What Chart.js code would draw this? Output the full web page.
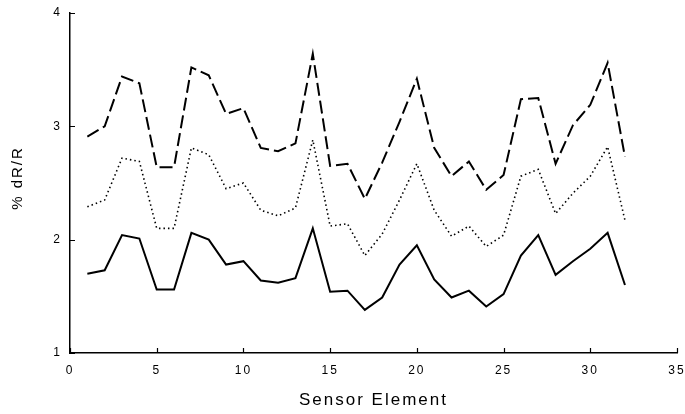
<!DOCTYPE html>
<html>
<head>
<meta charset="utf-8">
<script src="https://cdn.jsdelivr.net/npm/chart.js@4.4.1/dist/chart.umd.min.js"></script>
<style>
  html, body { margin: 0; padding: 0; background: #fff; }
  canvas { display: block; }
</style>
</head>
<body>
<canvas id="sensorChart" width="685" height="414"></canvas>
<script>
// sensor element index 1..32
const sensorElements = [1, 2, 3, 4, 5, 6, 7, 8, 9, 10, 11, 12, 13, 14, 15, 16,
  17, 18, 19, 20, 21, 22, 23, 24, 25, 26, 27, 28, 29, 30, 31, 32];

// % dR/R, upper (dashed) series
const dashedValues = [2.91, 3.0, 3.44, 3.38, 2.64, 2.64, 3.52, 3.45, 3.11, 3.16, 2.81, 2.78, 2.85, 3.64, 2.65, 2.67,
  2.36, 2.68, 3.04, 3.42, 2.81, 2.56, 2.69, 2.44, 2.57, 3.24, 3.25, 2.67, 3.01, 3.19, 3.56, 2.73];

// middle (dotted) series
const dottedValues = [2.29, 2.35, 2.72, 2.69, 2.10, 2.10, 2.81, 2.75, 2.45, 2.50, 2.26, 2.21, 2.28, 2.88, 2.12, 2.14,
  1.86, 2.05, 2.35, 2.67, 2.26, 2.03, 2.12, 1.94, 2.04, 2.56, 2.62, 2.23, 2.41, 2.56, 2.82, 2.17];

// lower (solid) series
const solidValues = [1.70, 1.73, 2.04, 2.01, 1.56, 1.56, 2.06, 2.00, 1.78, 1.81, 1.64, 1.62, 1.66, 2.10, 1.54, 1.55,
  1.38, 1.49, 1.78, 1.95, 1.65, 1.49, 1.55, 1.41, 1.52, 1.86, 2.04, 1.69, 1.81, 1.92, 2.06, 1.60];

const xTicks = [0, 5, 10, 15, 20, 25, 30, 35];
const yTicks = [1, 2, 3, 4];
const yTitle = "% dR/R";

const toPoints = (vals) => vals.map((v, i) => ({ x: sensorElements[i], y: v }));

// inward ticks + y title placed a little above centre, as in the original
const axisExtras = {
  id: "axisExtras",
  beforeDraw(chart) {
    // the scanned figure uses widely spaced lettering
    chart.ctx.letterSpacing = "2px";
  },
  afterDraw(chart) {
    const { ctx, chartArea, scales } = chart;
    ctx.save();
    ctx.strokeStyle = "#000";
    ctx.lineWidth = 1.2;
    ctx.beginPath();
    xTicks.forEach((t) => {
      const px = Math.round(scales.x.getPixelForValue(t)) + 0.5;
      ctx.moveTo(px, chartArea.bottom);
      ctx.lineTo(px, chartArea.bottom - 5);
    });
    yTicks.forEach((t) => {
      const py = Math.round(scales.y.getPixelForValue(t)) + 0.5;
      ctx.moveTo(chartArea.left, py);
      ctx.lineTo(chartArea.left + 5, py);
    });
    ctx.stroke();

    ctx.font = "15px 'Liberation Sans'";
    ctx.fillStyle = "#000";
    ctx.textAlign = "left";
    ctx.textBaseline = "middle";
    const w = ctx.measureText(yTitle).width;
    ctx.translate(18, 178 + w / 2);
    ctx.rotate(-Math.PI / 2);
    ctx.fillText(yTitle, 0, 0);
    ctx.restore();
  },
};

const ctx = document.getElementById("sensorChart").getContext("2d");

new Chart(ctx, {
  type: "line",
  data: {
    datasets: [
      {
        label: "dashed",
        data: toPoints(dashedValues),
        borderColor: "#000",
        borderWidth: 2,
        borderDash: [13, 5],
        pointRadius: 0,
        tension: 0,
        fill: false,
      },
      {
        label: "dotted",
        data: toPoints(dottedValues),
        borderColor: "#000",
        borderWidth: 1.6,
        borderDash: [1.5, 3],
        pointRadius: 0,
        tension: 0,
        fill: false,
      },
      {
        label: "solid",
        data: toPoints(solidValues),
        borderColor: "#000",
        borderWidth: 2,
        pointRadius: 0,
        tension: 0,
        fill: false,
      },
    ],
  },
  options: {
    responsive: false,
    animation: false,
    layout: {
      padding: { top: 13, right: 8, left: 0, bottom: 0 },
    },
    scales: {
      x: {
        type: "linear",
        min: 0,
        max: 35,
        afterFit(scale) {
          scale.height = 61;
          scale.paddingLeft = 0;
          scale.paddingRight = 0;
        },
        afterBuildTicks(scale) {
          scale.ticks = xTicks.map((v) => ({ value: v }));
        },
        border: { display: true, color: "#000", width: 1.5 },
        grid: { display: true, drawOnChartArea: false, drawTicks: false },
        ticks: {
          padding: 10,
          color: "#000",
          font: { family: "Liberation Sans", size: 12 },
          maxRotation: 0,
        },
        title: {
          display: true,
          text: "Sensor Element",
          color: "#000",
          font: { family: "Liberation Sans", size: 17 },
          padding: { top: 4, bottom: 3 },
        },
      },
      y: {
        type: "linear",
        min: 1,
        max: 4,
        afterFit(scale) {
          scale.width = 70;
          scale.paddingTop = 0;
          scale.paddingBottom = 0;
        },
        afterBuildTicks(scale) {
          scale.ticks = yTicks.map((v) => ({ value: v }));
        },
        border: { display: true, color: "#000", width: 1.5 },
        grid: { display: true, drawOnChartArea: false, drawTicks: false },
        ticks: {
          padding: 8,
          color: "#000",
          font: { family: "Liberation Sans", size: 12 },
        },
        title: { display: false },
      },
    },
    plugins: {
      legend: { display: false },
      tooltip: { enabled: false },
    },
  },
  plugins: [axisExtras],
});
</script>
</body>
</html>
